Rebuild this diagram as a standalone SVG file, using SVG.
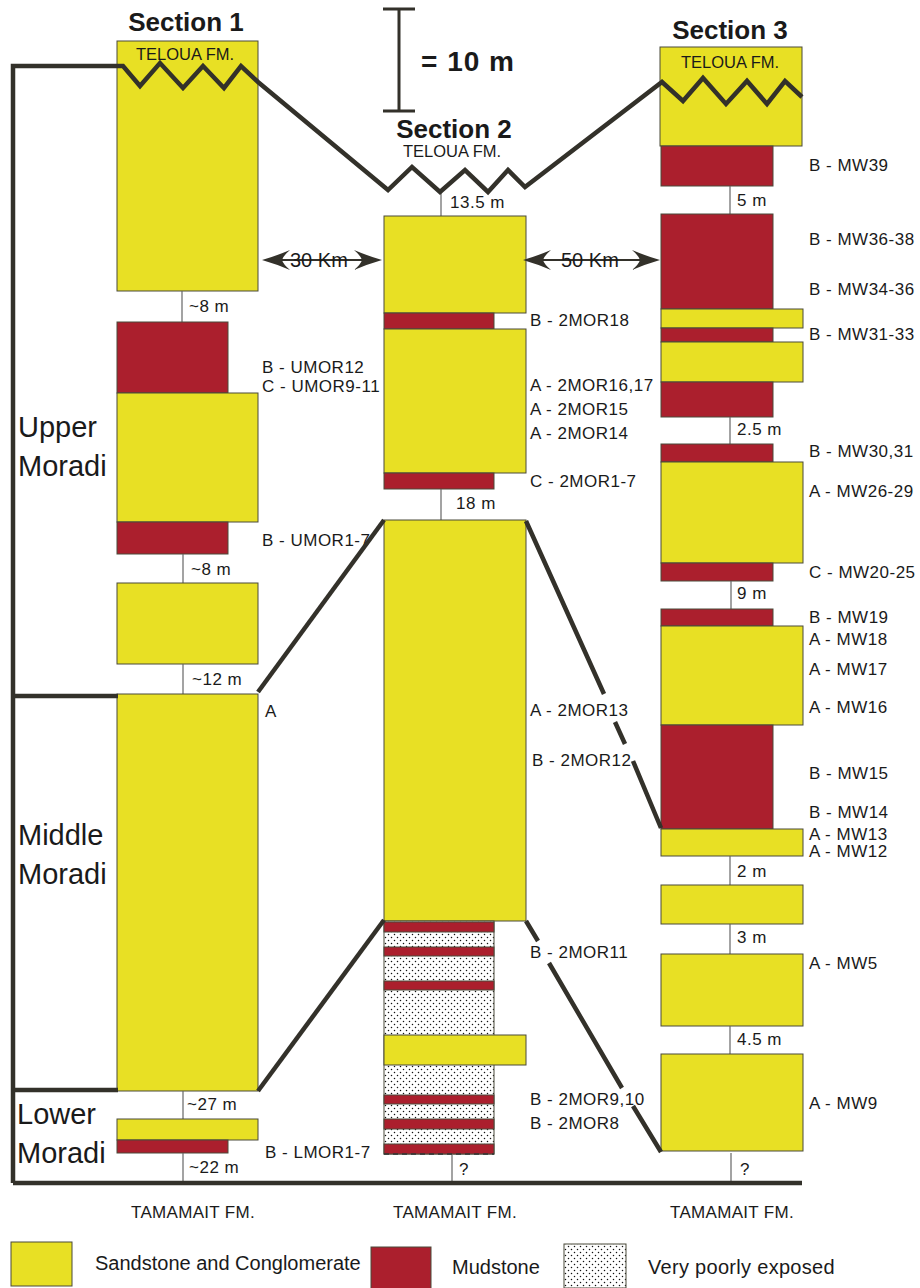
<svg xmlns="http://www.w3.org/2000/svg" xmlns:xlink="http://www.w3.org/1999/xlink" width="920" height="1288" viewBox="0 0 920 1288">
<style>
.ss{fill:#e8e024;stroke:#4a4a3a;stroke-width:1}
.ms{fill:#ab1f2d;stroke:#4a4a3a;stroke-width:1}
.pe{fill:url(#dots);stroke:#4a4a3a;stroke-width:1}
.gap{stroke:#666;stroke-width:1.2;fill:none}
.heavy{stroke:#33312a;stroke-width:4.5;fill:none;stroke-linejoin:miter}
.title{font-family:"Liberation Sans",Arial,sans-serif;font-weight:bold;font-size:26px;fill:#1a1a1a;text-anchor:middle}
.fm{font-family:"Liberation Sans",Arial,sans-serif;font-size:16.5px;fill:#1a1a1a;text-anchor:middle}
.lab{font-family:"Liberation Sans",Arial,sans-serif;font-size:17px;letter-spacing:0.5px;fill:#1a1a1a}
.unit{font-family:"Liberation Sans",Arial,sans-serif;font-size:29px;fill:#1a1a1a}
.km{font-family:"Liberation Sans",Arial,sans-serif;font-size:20px;fill:#1a1a1a}
.leg{font-family:"Liberation Sans",Arial,sans-serif;font-size:20px;fill:#1a1a1a}
</style>
<defs>
<pattern id="dots" width="6" height="6" patternUnits="userSpaceOnUse">
<rect width="6" height="6" fill="#fff"/>
<circle cx="1.5" cy="1.5" r="0.75" fill="#111"/>
<circle cx="4.5" cy="4.5" r="0.75" fill="#111"/>
</pattern>
<path id="ah" d="M0,0 Q14,-4 28,-10 Q21,-4 20,0 Q21,4 28,10 Q14,4 0,0Z" fill="#33312a"/>
</defs>
<rect width="920" height="1288" fill="#fff"/>

<!-- scale bar -->
<g id="scale">
<path d="M399,9 V111 M383,9 H415 M383,111 H415" stroke="#33312a" stroke-width="3" fill="none"/>
<text x="421" y="71" class="title" style="text-anchor:start;letter-spacing:1px;font-size:28px">= 10 m</text>
</g>

<!-- Section 1 -->
<g id="section1">
<text x="186" y="31" class="title">Section 1</text>
<rect class="ss" x="117" y="41" width="141" height="250"/>
<text x="185" y="60" class="fm">TELOUA FM.</text>
<line class="gap" x1="182" y1="291" x2="182" y2="322"/>
<text x="189" y="312" class="lab">~8 m</text>
<rect class="ms" x="117" y="322" width="111" height="71"/>
<rect class="ss" x="117" y="393" width="141" height="129"/>
<rect class="ms" x="117" y="522" width="111" height="32"/>
<line class="gap" x1="183" y1="554" x2="183" y2="583"/>
<text x="191" y="575" class="lab">~8 m</text>
<rect class="ss" x="117" y="583" width="141" height="81"/>
<line class="gap" x1="183" y1="664" x2="183" y2="694"/>
<text x="192" y="685" class="lab">~12 m</text>
<rect class="ss" x="117" y="694" width="141" height="397"/>
<line class="gap" x1="183" y1="1091" x2="183" y2="1119"/>
<text x="187" y="1110" class="lab">~27 m</text>
<rect class="ss" x="117" y="1119" width="141" height="21"/>
<rect class="ms" x="117" y="1140" width="111" height="13"/>
<line class="gap" x1="183" y1="1153" x2="183" y2="1183"/>
<text x="189" y="1173" class="lab">~22 m</text>
<text x="262" y="373" class="lab">B - UMOR12</text>
<text x="262" y="392" class="lab">C - UMOR9-11</text>
<text x="262" y="546" class="lab">B - UMOR1-7</text>
<text x="265" y="717" class="lab">A</text>
<text x="265" y="1158" class="lab">B - LMOR1-7</text>
<text x="193" y="1218" class="lab" style="text-anchor:middle;letter-spacing:0.3px">TAMAMAIT FM.</text>
</g>

<!-- Section 2 -->
<g id="section2">
<text x="454" y="138" class="title">Section 2</text>
<text x="452" y="157" class="fm">TELOUA FM.</text>
<line class="gap" x1="441" y1="190" x2="441" y2="216"/>
<text x="450" y="208" class="lab">13.5 m</text>
<rect class="ss" x="384" y="216" width="142" height="97"/>
<rect class="ms" x="384" y="313" width="110" height="16"/>
<rect class="ss" x="384" y="329" width="142" height="144"/>
<rect class="ms" x="384" y="473" width="110" height="16"/>
<line class="gap" x1="441" y1="489" x2="441" y2="520"/>
<text x="456" y="509" class="lab">18 m</text>
<rect class="ss" x="384" y="520" width="142" height="401"/>
<rect class="pe" x="384" y="921" width="110" height="233"/>
<rect class="ms" x="384" y="922" width="110" height="10"/>
<rect class="ms" x="384" y="947" width="110" height="9"/>
<rect class="ms" x="384" y="981" width="110" height="9"/>
<rect class="ss" x="384" y="1035" width="142" height="30"/>
<rect class="ms" x="384" y="1095" width="110" height="9"/>
<rect class="ms" x="384" y="1119" width="110" height="10"/>
<rect class="ms" x="384" y="1144" width="110" height="10"/>
<line x1="384" y1="1154" x2="494" y2="1154" stroke="#333" stroke-width="1.5" stroke-dasharray="5,4"/>
<line class="gap" x1="452" y1="1155" x2="452" y2="1183"/>
<text x="459" y="1175" class="lab">?</text>
<text x="530" y="326" class="lab">B - 2MOR18</text>
<text x="530" y="391" class="lab">A - 2MOR16,17</text>
<text x="530" y="415" class="lab">A - 2MOR15</text>
<text x="530" y="439" class="lab">A - 2MOR14</text>
<text x="530" y="487" class="lab">C - 2MOR1-7</text>
<text x="530" y="716" class="lab">A - 2MOR13</text>
<text x="532" y="766" class="lab">B - 2MOR12</text>
<text x="530" y="958" class="lab">B - 2MOR11</text>
<text x="530" y="1105" class="lab">B - 2MOR9,10</text>
<text x="530" y="1129" class="lab">B - 2MOR8</text>
<text x="455" y="1218" class="lab" style="text-anchor:middle;letter-spacing:0.3px">TAMAMAIT FM.</text>
</g>

<!-- Section 3 -->
<g id="section3">
<text x="730" y="39" class="title">Section 3</text>
<rect class="ss" x="660" y="47" width="142" height="99"/>
<text x="730" y="68" class="fm">TELOUA FM.</text>
<rect class="ms" x="661" y="146" width="112" height="40"/>
<line class="gap" x1="730" y1="186" x2="730" y2="214"/>
<text x="737" y="206" class="lab">5 m</text>
<rect class="ms" x="661" y="214" width="112" height="95"/>
<rect class="ss" x="661" y="309" width="142" height="19"/>
<rect class="ms" x="661" y="328" width="112" height="14"/>
<rect class="ss" x="661" y="342" width="142" height="40"/>
<rect class="ms" x="661" y="382" width="112" height="35"/>
<line class="gap" x1="730" y1="417" x2="730" y2="444"/>
<text x="737" y="435" class="lab">2.5 m</text>
<rect class="ms" x="661" y="444" width="112" height="18"/>
<rect class="ss" x="661" y="462" width="142" height="101"/>
<rect class="ms" x="661" y="563" width="112" height="18"/>
<line class="gap" x1="731" y1="581" x2="731" y2="609"/>
<text x="737" y="599" class="lab">9 m</text>
<rect class="ms" x="661" y="609" width="112" height="17"/>
<rect class="ss" x="661" y="626" width="142" height="99"/>
<rect class="ms" x="661" y="725" width="112" height="104"/>
<rect class="ss" x="661" y="829" width="142" height="27"/>
<line class="gap" x1="730" y1="856" x2="730" y2="885"/>
<text x="737" y="877" class="lab">2 m</text>
<rect class="ss" x="661" y="885" width="142" height="39"/>
<line class="gap" x1="730" y1="924" x2="730" y2="954"/>
<text x="737" y="943" class="lab">3 m</text>
<rect class="ss" x="661" y="954" width="142" height="72"/>
<line class="gap" x1="730" y1="1026" x2="730" y2="1054"/>
<text x="737" y="1045" class="lab">4.5 m</text>
<rect class="ss" x="661" y="1054" width="142" height="97"/>
<line class="gap" x1="731" y1="1153" x2="731" y2="1183"/>
<text x="740" y="1175" class="lab">?</text>
<text x="809" y="171" class="lab">B - MW39</text>
<text x="809" y="245" class="lab">B - MW36-38</text>
<text x="809" y="295" class="lab">B - MW34-36</text>
<text x="809" y="340" class="lab">B - MW31-33</text>
<text x="809" y="457" class="lab">B - MW30,31</text>
<text x="809" y="497" class="lab">A - MW26-29</text>
<text x="809" y="578" class="lab">C - MW20-25</text>
<text x="809" y="623" class="lab">B - MW19</text>
<text x="809" y="645" class="lab">A - MW18</text>
<text x="809" y="675" class="lab">A - MW17</text>
<text x="809" y="713" class="lab">A - MW16</text>
<text x="809" y="779" class="lab">B - MW15</text>
<text x="809" y="818" class="lab">B - MW14</text>
<text x="809" y="840" class="lab">A - MW13</text>
<text x="809" y="857" class="lab">A - MW12</text>
<text x="809" y="969" class="lab">A - MW5</text>
<text x="809" y="1109" class="lab">A - MW9</text>
<text x="732" y="1218" class="lab" style="text-anchor:middle;letter-spacing:0.3px">TAMAMAIT FM.</text>
</g>

<!-- stratigraphic units -->
<g id="units">
<text x="18" y="437" class="unit">Upper</text>
<text x="18" y="476" class="unit">Moradi</text>
<text x="18" y="845" class="unit">Middle</text>
<text x="18" y="884" class="unit">Moradi</text>
<text x="17" y="1124" class="unit">Lower</text>
<text x="17" y="1163" class="unit">Moradi</text>
</g>

<!-- connectors -->
<g id="connectors">
<path class="heavy" d="M13,1183 V66 H123 L140,86 L160,63 L183,88 L203,66 L224,88 L241,66 L258,82 L388,190 L412,167 L440,192 L465,170 L488,192 L508,170 L525,187 L662,82 L683,101 L703,78 L726,104 L747,81 L767,104 L785,81 L802,97"/>
<path class="heavy" d="M13,696 H118 M13,1090 H118 M13,1183 H802"/>
<path class="heavy" d="M258,692 L384,520"/>
<path class="heavy" d="M258,1091 L384,920"/>
<path class="heavy" d="M526,521 L604,694 M615,722 L625,744 M633,761 L661,828"/>
<path class="heavy" d="M526,921 L538,941 M549,963 L622,1088 M633,1106 L661,1152"/>
<line x1="270" y1="260" x2="375" y2="260" stroke="#33312a" stroke-width="2"/>
<use xlink:href="#ah" transform="translate(262,260)"/>
<use xlink:href="#ah" transform="translate(382,260) scale(-1,1)"/>
<line x1="531" y1="260" x2="652" y2="260" stroke="#33312a" stroke-width="2"/>
<use xlink:href="#ah" transform="translate(523,260)"/>
<use xlink:href="#ah" transform="translate(660,260) scale(-1,1)"/>
<text x="290" y="267" class="km">30 Km</text>
<text x="561" y="267" class="km">50 Km</text>
</g>

<!-- legend -->
<g id="legend">
<rect class="ss" x="11" y="1242" width="61" height="44"/>
<text x="95" y="1270" class="leg">Sandstone and Conglomerate</text>
<rect class="ms" x="371" y="1247" width="60" height="42"/>
<text x="452" y="1274" class="leg">Mudstone</text>
<rect class="pe" x="564" y="1244" width="62" height="44"/>
<text x="648" y="1274" class="leg" style="letter-spacing:0.3px">Very poorly exposed</text>
</g>
</svg>
